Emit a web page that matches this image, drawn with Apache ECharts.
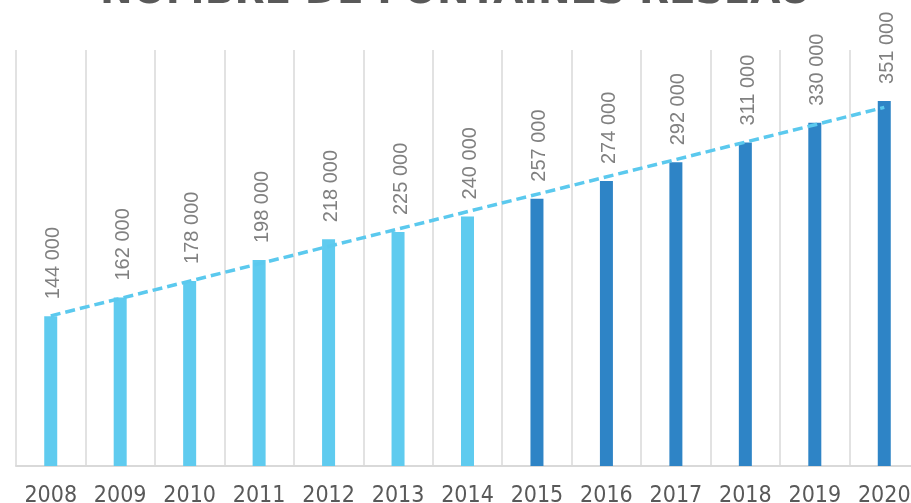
<!DOCTYPE html>
<html>
<head>
<meta charset="utf-8">
<script src="https://cdn.jsdelivr.net/npm/echarts@6/dist/echarts.min.js"></script>
<style>
html,body{margin:0;padding:0;background:#fff;}
#c{width:911px;height:503px;}
</style>
</head>
<body>
<div id="c"></div>
<script>
var titleText = 'NOMBRE DE FONTAINES RÉSEAU';
var categories = ['2008','2009','2010','2011','2012','2013','2014','2015','2016','2017','2018','2019','2020'];
var values = [144000,162000,178000,198000,218000,225000,240000,257000,274000,292000,311000,330000,351000];
var firstDarkYear = '2015';
var trendStart = 144400;
var trendEnd = 344800;

var LIGHT = '#5FCBEF';
var DARK = '#2E84C6';
var darkIdx = categories.indexOf(firstDarkYear);

function fmt(v){ return String(v).replace(/\B(?=(\d{3})+(?!\d))/g, ' '); }

var chart = echarts.init(document.getElementById('c'), null, {renderer:'canvas'});
chart.setOption({
  animation: false,
  backgroundColor: '#ffffff',
  graphic: [{
    type: 'text',
    left: 'center',
    top: -27,
    style: {
      text: titleText,
      fontFamily: 'DejaVu Sans',
      fontWeight: 'bold',
      fontSize: 39,
      fill: '#595959'
    }
  }],
  grid: {left: 16, right: -8, top: 50, bottom: 37, containLabel: false, outerBoundsMode: 'none'},
  xAxis: {
    type: 'category',
    data: categories,
    boundaryGap: true,
    axisLine: {show: true, lineStyle: {color: '#d9d9d9', width: 2}},
    axisTick: {show: false},
    splitLine: {show: true, lineStyle: {color: '#d9d9d9', width: 1.5}},
    axisLabel: {
      color: '#595959',
      fontFamily: 'DejaVu Sans Condensed',
      fontSize: 23,
      margin: 19
    }
  },
  yAxis: {
    type: 'value',
    min: 0,
    max: 400000,
    show: false,
    splitLine: {show: false}
  },
  series: [{
    type: 'bar',
    data: values,
    barWidth: 13,
    itemStyle: {
      color: function(p){ return p.dataIndex >= darkIdx ? DARK : LIGHT; }
    },
    label: {
      show: true,
      position: 'top',
      distance: 17,
      rotate: 90,
      align: 'left',
      verticalAlign: 'middle',
      fontFamily: 'Liberation Sans',
      fontSize: 20,
      color: '#808080',
      offset: [0, 3],
      formatter: function(p){ return fmt(p.value); }
    },
    z: 2
  }, {
    type: 'line',
    data: [[categories[0], trendStart], [categories[categories.length-1], trendEnd]],
    symbol: 'none',
    lineStyle: {color: '#5BC9EE', width: 3.5, type: [10, 5]},
    z: 3
  }]
});
</script>
</body>
</html>
